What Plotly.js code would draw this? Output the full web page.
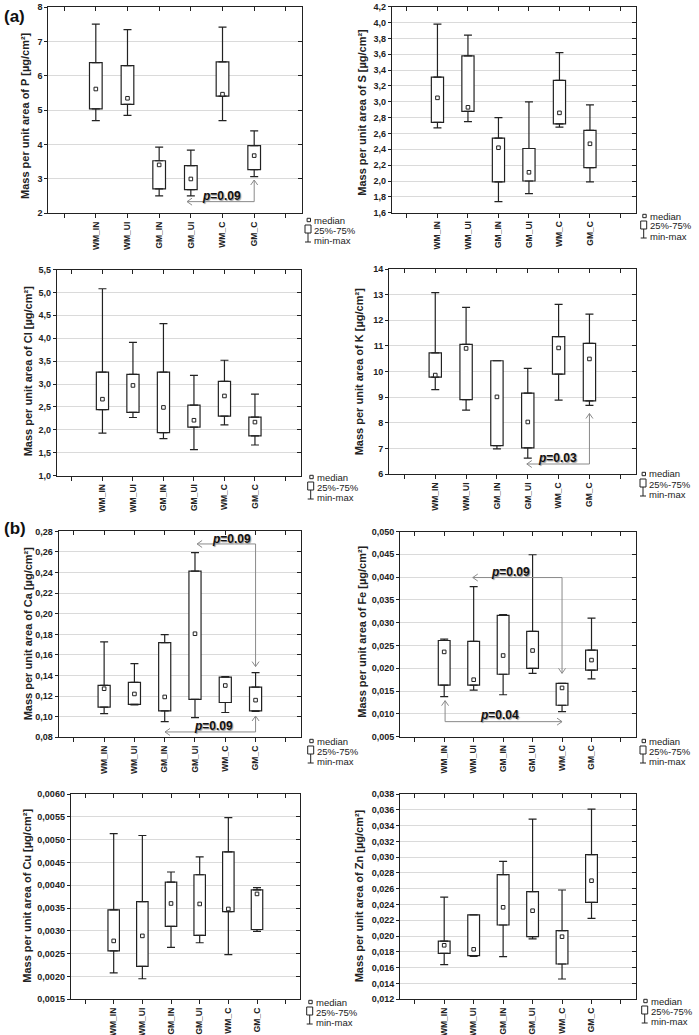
<!DOCTYPE html>
<html><head><meta charset="utf-8">
<script src="https://cdn.plot.ly/plotly-3.0.1.min.js"></script>
<style>html,body{margin:0;padding:0;background:#fff;}#chart{width:699px;height:1035px;}</style>
</head><body><div id="chart"></div>
<script>
// ---------------- DATA ----------------
const categories = ['WM_IN', 'WM_UI', 'GM_IN', 'GM_UI', 'WM_C', 'GM_C'];

const P_min = [4.70, 4.85, 2.51, 2.51, 4.70, 3.07];
const P_q1  = [5.04, 5.17, 2.71, 2.69, 5.41, 3.27];
const P_med = [5.62, 5.35, 3.41, 3.00, 5.47, 3.68];
const P_q3  = [6.39, 6.30, 3.53, 3.39, 6.41, 3.97];
const P_max = [7.51, 7.35, 3.93, 3.84, 7.42, 4.40];

const S_min = [2.67, 2.75, 1.74, 1.84, 2.68, 1.99];
const S_q1  = [2.74, 2.88, 1.99, 2.00, 2.72, 2.17];
const S_med = [3.05, 2.93, 2.42, 2.11, 2.86, 2.47];
const S_q3  = [3.31, 3.58, 2.54, 2.41, 3.27, 2.64];
const S_max = [3.98, 3.84, 2.80, 3.00, 3.62, 2.96];

const Cl_min = [1.93, 2.27, 1.81, 1.57, 2.11, 1.67];
const Cl_q1  = [2.44, 2.38, 1.94, 2.06, 2.30, 1.87];
const Cl_med = [2.67, 2.97, 2.49, 2.21, 2.74, 2.17];
const Cl_q3  = [3.26, 3.21, 3.26, 2.54, 3.06, 2.28];
const Cl_max = [5.08, 3.91, 4.32, 3.19, 3.52, 2.78];

const K_min = [9.29, 8.49, 6.98, 6.62, 8.88, 8.68];
const K_q1  = [9.78, 8.90, 7.11, 7.02, 9.90, 8.85];
const K_med = [9.86, 10.90, 9.01, 8.03, 10.92, 10.49];
const K_q3  = [10.73, 11.06, 10.42, 9.16, 11.36, 11.10];
const K_max = [13.08, 12.50, 10.42, 10.12, 12.62, 12.24];

const Ca_min = [0.1030, 0.1114, 0.0952, 0.0991, 0.1041, 0.1052];
const Ca_q1  = [0.1094, 0.1120, 0.1056, 0.1169, 0.1138, 0.1057];
const Ca_med = [0.1272, 0.1221, 0.1192, 0.1806, 0.1303, 0.1161];
const Ca_q3  = [0.1305, 0.1334, 0.1719, 0.2415, 0.1384, 0.1287];
const Ca_max = [0.1726, 0.1515, 0.1797, 0.2593, 0.1390, 0.1429];

const Fe_min = [0.0138, 0.0152, 0.0142, 0.0189, 0.0105, 0.0177];
const Fe_q1  = [0.0163, 0.0163, 0.0187, 0.0200, 0.0119, 0.0196];
const Fe_med = [0.0236, 0.0175, 0.0228, 0.0239, 0.0157, 0.0218];
const Fe_q3  = [0.0261, 0.0259, 0.0316, 0.0281, 0.0167, 0.0240];
const Fe_max = [0.0264, 0.0379, 0.0318, 0.0449, 0.0167, 0.0310];

const Cu_min = [0.00208, 0.00195, 0.00264, 0.00274, 0.00248, 0.00299];
const Cu_q1  = [0.00256, 0.00222, 0.00310, 0.00290, 0.00342, 0.00303];
const Cu_med = [0.00278, 0.00289, 0.00360, 0.00359, 0.00348, 0.00381];
const Cu_q3  = [0.00346, 0.00364, 0.00407, 0.00423, 0.00473, 0.00390];
const Cu_max = [0.00513, 0.00509, 0.00429, 0.00462, 0.00548, 0.00395];

const Zn_min = [0.01639, 0.01744, 0.01740, 0.01964, 0.01457, 0.02225];
const Zn_q1  = [0.01782, 0.01753, 0.02141, 0.01993, 0.01647, 0.02428];
const Zn_med = [0.01884, 0.01833, 0.02365, 0.02322, 0.01993, 0.02702];
const Zn_q3  = [0.01938, 0.02268, 0.02778, 0.02563, 0.02069, 0.03031];
const Zn_max = [0.02495, 0.02268, 0.02947, 0.03483, 0.02584, 0.03609];

// significance brackets: vertical at fromX (arrow tip at tipY), horizontal at lineY to toX
const P_tests  = [{p: '0.09', fromX: 6, tipY: 2.97, lineY: 2.34, toX: 3.88, labelX: 4.96, labelY: 2.50}];
const S_tests  = [];
const Cl_tests = [];
const K_tests  = [{p: '0.03', fromX: 6, tipY: 8.36, lineY: 6.39, toX: 3.97, labelX: 4.97, labelY: 6.62}];
const Ca_tests = [
  {p: '0.09', fromX: 6, tipY: 0.1487, lineY: 0.2678, toX: 4.07, labelX: 5.20, labelY: 0.2723},
  {p: '0.09', fromX: 6, tipY: 0.1007, lineY: 0.0852, toX: 3.01, labelX: 4.61, labelY: 0.0911}
];
const Fe_tests = [
  {p: '0.09', fromX: 5, tipY: 0.0189, lineY: 0.0399, toX: 1.97, labelX: 3.26, labelY: 0.0412},
  {p: '0.04', fromX: 1.03, tipY: 0.0129, lineY: 0.0083, toX: 5.0, labelX: 2.89, labelY: 0.0097}
];
const Cu_tests = [];
const Zn_tests = [];

const elements = [
  {name: 'P',  min: P_min,  q1: P_q1,  med: P_med,  q3: P_q3,  max: P_max,  tests: P_tests},
  {name: 'S',  min: S_min,  q1: S_q1,  med: S_med,  q3: S_q3,  max: S_max,  tests: S_tests},
  {name: 'Cl', min: Cl_min, q1: Cl_q1, med: Cl_med, q3: Cl_q3, max: Cl_max, tests: Cl_tests},
  {name: 'K',  min: K_min,  q1: K_q1,  med: K_med,  q3: K_q3,  max: K_max,  tests: K_tests},
  {name: 'Ca', min: Ca_min, q1: Ca_q1, med: Ca_med, q3: Ca_q3, max: Ca_max, tests: Ca_tests},
  {name: 'Fe', min: Fe_min, q1: Fe_q1, med: Fe_med, q3: Fe_q3, max: Fe_max, tests: Fe_tests},
  {name: 'Cu', min: Cu_min, q1: Cu_q1, med: Cu_med, q3: Cu_q3, max: Cu_max, tests: Cu_tests},
  {name: 'Zn', min: Zn_min, q1: Zn_q1, med: Zn_med, q3: Zn_q3, max: Zn_max, tests: Zn_tests}
];

// ---------------- LAYOUT (pixel geometry of each panel) ----------------
const panels = [
  {l: 48.3, r: 301.7, t: 7.3,   b: 213.3, range: [2, 8],          dtick: 1,      fmt: '.0f', titleX: 25,    titleY: 116, legX: 313.3, legY: 220},
  {l: 391.7, r: 635.7, t: 6.7,  b: 212.7, range: [1.6, 4.2],      dtick: 0.2,    fmt: '.1f', titleX: 361.7, titleY: 112, legX: 649,   legY: 216},
  {l: 56.7, r: 300.7, t: 269.5, b: 475.7, range: [1, 5.5],        dtick: 0.5,    fmt: '.1f', titleX: 28.3,  titleY: 371, legX: 316,   legY: 477},
  {l: 389,  r: 635.7, t: 269,   b: 474,   range: [6, 14],         dtick: 1,      fmt: '.0f', titleX: 359.3, titleY: 372, legX: 648.3, legY: 474},
  {l: 58.7, r: 301,   t: 531.4, b: 737.3, range: [0.08, 0.28],    dtick: 0.02,   fmt: '.2f', titleX: 28.3,  titleY: 633, legX: 316,   legY: 741},
  {l: 400,  r: 635.7, t: 531.5, b: 736.7, range: [0.005, 0.05],   dtick: 0.005,  fmt: '.3f', titleX: 361.7, titleY: 632, legX: 648.3, legY: 741},
  {l: 70.7, r: 300,   t: 794,   b: 999.3, range: [0.0015, 0.006], dtick: 0.0005, fmt: '.4f', titleX: 26.7,  titleY: 896, legX: 315,   legY: 1002},
  {l: 400,  r: 635.7, t: 794,   b: 999.3, range: [0.012, 0.038],  dtick: 0.002,  fmt: '.3f', titleX: 359.3, titleY: 896, legX: 650,   legY: 1001}
];

const W = 699, H = 1035;
const fx = px => px / W;
const fy = py => 1 - py / H;
const FONT = 'Arial, "Liberation Sans", sans-serif';
const INK = '#222';
const GRAYARROW = '#8a8a8a';

const xPos = categories.map((c, i) => i + 1);
const slotVals = [0].concat(xPos, [categories.length + 1]);
const edgeSlots = [0, categories.length + 1];

const data = [];
const annotations = [];
const shapes = [];
const layout = {
  width: W, height: H, autosize: false,
  margin: {l: 0, r: 0, t: 0, b: 0, pad: 0},
  paper_bgcolor: '#fff', plot_bgcolor: '#fff',
  showlegend: false, barmode: 'overlay', separators: ',.',
  font: {family: FONT, color: INK},
  annotations: annotations, shapes: shapes
};

function chevron(dir) {
  // open arrow head, tip at anchor; pixel offsets
  if (dir === 'up') return 'M-3.5,-5L0,0L3.5,-5';
  if (dir === 'down') return 'M-3.5,5L0,0L3.5,5';
  if (dir === 'left') return 'M5,3.5L0,0L5,-3.5';
  return 'M-5,3.5L0,0L-5,-3.5';
}

elements.forEach((el, i) => {
  const p = panels[i];
  const n = i + 1;
  const xid = n === 1 ? 'x' : 'x' + n;
  const yid = n === 1 ? 'y' : 'y' + n;
  const xk = n === 1 ? 'xaxis' : 'xaxis' + n;
  const yk = n === 1 ? 'yaxis' : 'yaxis' + n;
  const on = n + 8;

  layout[xk] = {
    domain: [fx(p.l), fx(p.r)], anchor: yid, range: [-0.5, categories.length + 1.5],
    tickmode: 'array', tickvals: xPos, ticktext: categories, tickangle: -90,
    ticks: 'outside', ticklen: 4, tickwidth: 1, tickcolor: INK,
    minor: {tickmode: 'array', tickvals: edgeSlots, ticks: 'outside', ticklen: 4, tickwidth: 1, tickcolor: INK, showgrid: false},
    showline: true, mirror: true, linecolor: INK, linewidth: 1,
    showgrid: false, zeroline: false, fixedrange: true,
    tickfont: {family: FONT, size: 8.5, color: INK, weight: 'bold'}
  };
  layout[yk] = {
    domain: [fy(p.b), fy(p.t)], anchor: xid, range: p.range,
    tick0: 0, dtick: p.dtick, tickformat: p.fmt,
    ticks: 'outside', ticklen: 3, tickwidth: 1, tickcolor: INK,
    showline: true, mirror: true, linecolor: INK, linewidth: 1,
    showgrid: true, gridcolor: '#dadada', gridwidth: 1, zeroline: false, fixedrange: true,
    tickfont: {family: FONT, size: 9, color: INK, weight: 'bold'}
  };
  // inner tick marks on top and right sides
  layout['xaxis' + on] = {
    overlaying: xid, anchor: yid, side: 'top', range: [-0.5, categories.length + 1.5],
    tickmode: 'array', tickvals: slotVals, showticklabels: false,
    ticks: 'inside', ticklen: 4, tickwidth: 1, tickcolor: INK,
    showline: false, showgrid: false, zeroline: false, fixedrange: true
  };
  layout['yaxis' + on] = {
    overlaying: yid, anchor: xid, side: 'right', range: p.range,
    tick0: 0, dtick: p.dtick, showticklabels: false,
    ticks: 'inside', ticklen: 4, tickwidth: 1, tickcolor: INK,
    showline: false, showgrid: false, zeroline: false, fixedrange: true
  };
  data.push({type: 'scatter', x: [], y: [], xaxis: 'x' + on, yaxis: 'y' + on, hoverinfo: 'skip', showlegend: false});

  // boxes (25%-75%)
  data.push({
    type: 'bar', x: xPos, base: el.q1, y: el.q3.map((v, k) => v - el.q1[k]),
    width: 0.4, xaxis: xid, yaxis: yid, hoverinfo: 'skip',
    marker: {color: '#ffffff', line: {color: INK, width: 1.2}}
  });
  // upper whiskers
  data.push({
    type: 'scatter', mode: 'markers', x: xPos, y: el.q3, xaxis: xid, yaxis: yid, hoverinfo: 'skip',
    marker: {size: 1, color: 'rgba(0,0,0,0)'},
    error_y: {type: 'data', symmetric: false, array: el.max.map((v, k) => v - el.q3[k]),
              arrayminus: el.q3.map(() => 0), width: 4, thickness: 1.2, color: INK}
  });
  // lower whiskers
  data.push({
    type: 'scatter', mode: 'markers', x: xPos, y: el.q1, xaxis: xid, yaxis: yid, hoverinfo: 'skip',
    marker: {size: 1, color: 'rgba(0,0,0,0)'},
    error_y: {type: 'data', symmetric: false, array: el.q1.map(() => 0),
              arrayminus: el.q1.map((v, k) => v - el.min[k]), width: 4, thickness: 1.2, color: INK}
  });
  // medians
  data.push({
    type: 'scatter', mode: 'markers', x: xPos, y: el.med, xaxis: xid, yaxis: yid, hoverinfo: 'skip',
    marker: {symbol: 'square', size: 3.6, color: '#ffffff', line: {color: INK, width: 1}}
  });

  // significance brackets
  el.tests.forEach(t => {
    data.push({
      type: 'scatter', mode: 'lines', x: [t.fromX, t.fromX, t.toX], y: [t.tipY, t.lineY, t.lineY],
      xaxis: xid, yaxis: yid, hoverinfo: 'skip', line: {color: GRAYARROW, width: 1}
    });
    shapes.push({
      type: 'path', xref: xid, yref: yid, xsizemode: 'pixel', ysizemode: 'pixel',
      xanchor: t.fromX, yanchor: t.tipY, path: chevron(t.tipY > t.lineY ? 'up' : 'down'),
      line: {color: GRAYARROW, width: 1}
    });
    shapes.push({
      type: 'path', xref: xid, yref: yid, xsizemode: 'pixel', ysizemode: 'pixel',
      xanchor: t.toX, yanchor: t.lineY, path: chevron(t.toX < t.fromX ? 'left' : 'right'),
      line: {color: GRAYARROW, width: 1}
    });
    annotations.push({
      xref: xid, yref: yid, x: t.labelX, y: t.labelY, showarrow: false,
      text: '<b><i>p</i>=' + t.p + '</b>',
      font: {family: FONT, size: 12, color: '#111', shadow: '1px 1px 1px #999'}
    });
  });

  // y-axis title
  annotations.push({
    xref: 'paper', yref: 'paper', x: fx(p.titleX), y: fy(p.titleY), xanchor: 'center', yanchor: 'middle',
    textangle: -90, showarrow: false,
    text: '<b>Mass per unit area of ' + el.name + ' [µg/cm²]</b>',
    font: {family: FONT, size: 11, color: INK}
  });

  // legend
  const legTexts = ['median', '25%-75%', 'min-max'];
  const legOff = [0, 10, 20.5];
  legTexts.forEach((tx, k) => {
    annotations.push({
      xref: 'paper', yref: 'paper', x: fx(p.legX - 1), y: fy(p.legY + legOff[k]), xanchor: 'left', yanchor: 'middle',
      showarrow: false, text: tx, font: {family: FONT, size: 9.5, color: INK}
    });
  });
  shapes.push({type: 'rect', xref: 'paper', yref: 'paper', x0: fx(p.legX - 6.2), x1: fx(p.legX - 2.8),
    y0: fy(p.legY + 1.7), y1: fy(p.legY - 1.7), line: {color: INK, width: 1}, fillcolor: '#fff'});
  shapes.push({type: 'rect', xref: 'paper', yref: 'paper', x0: fx(p.legX - 8.3), x1: fx(p.legX - 2.3),
    y0: fy(p.legY + 13), y1: fy(p.legY + 5), line: {color: INK, width: 1}, fillcolor: '#fff'});
  shapes.push({type: 'line', xref: 'paper', yref: 'paper', x0: fx(p.legX - 5.3), x1: fx(p.legX - 5.3),
    y0: fy(p.legY + 13), y1: fy(p.legY + 22), line: {color: INK, width: 1}});
  shapes.push({type: 'line', xref: 'paper', yref: 'paper', x0: fx(p.legX - 8.3), x1: fx(p.legX - 2.3),
    y0: fy(p.legY + 22), y1: fy(p.legY + 22), line: {color: INK, width: 1}});
});

// panel group labels
annotations.push({xref: 'paper', yref: 'paper', x: fx(2), y: fy(16), xanchor: 'left', yanchor: 'middle',
  showarrow: false, text: '<b>(a)</b>', font: {family: FONT, size: 17, color: '#111'}});
annotations.push({xref: 'paper', yref: 'paper', x: fx(2), y: fy(528), xanchor: 'left', yanchor: 'middle',
  showarrow: false, text: '<b>(b)</b>', font: {family: FONT, size: 17, color: '#111'}});

Plotly.newPlot('chart', data, layout, {staticPlot: true, displayModeBar: false});
</script>
</body></html>
